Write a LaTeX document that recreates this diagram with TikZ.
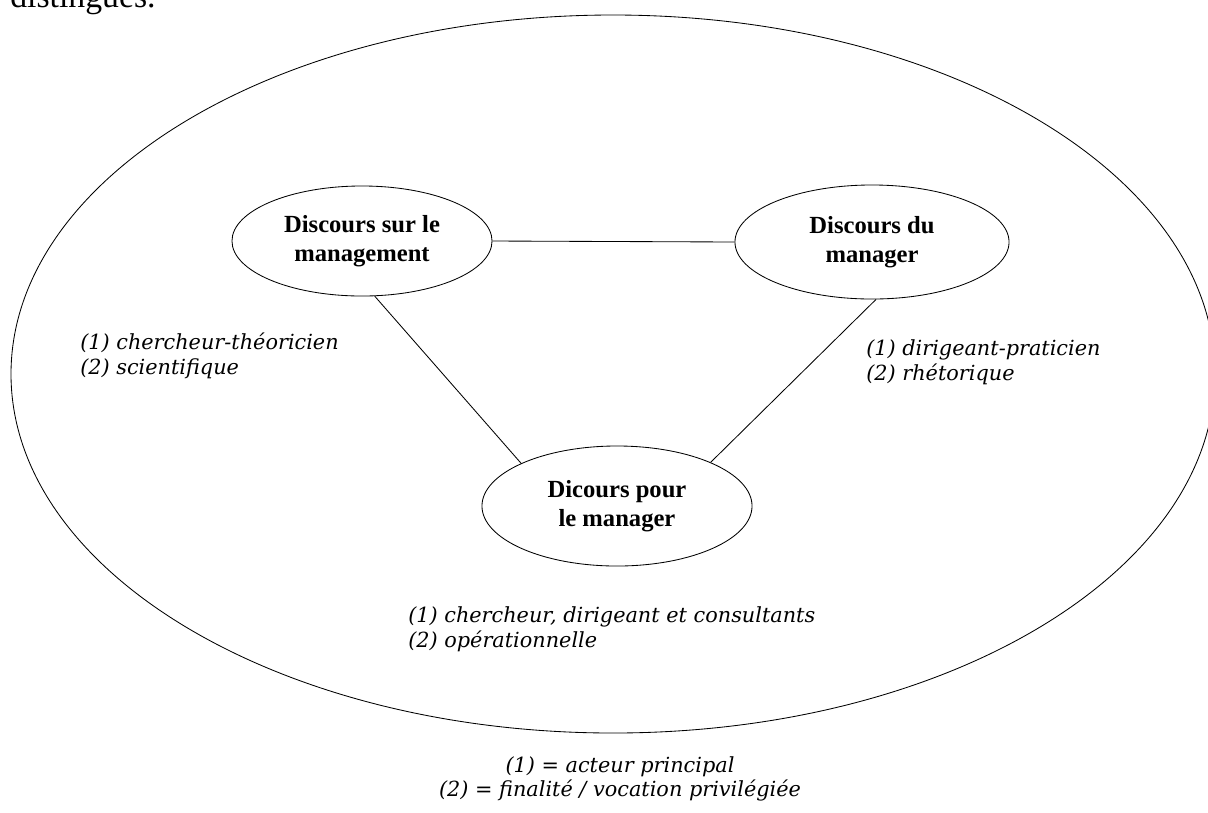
\documentclass[tikz,border=0pt]{standalone}
\usepackage{fontspec}
\setmainfont{Liberation Serif}
\newfontfamily\notefont{DejaVu Serif}
\usetikzlibrary{shapes.geometric}

\begin{document}
\begin{tikzpicture}[x=0.025cm,y=-0.025cm]
	\tikzset{bubble/.style={draw,ellipse,line width=0.6pt,inner sep=0pt,align=center,font=\fontsize{17.5}{21}\selectfont\bfseries}}
	\tikzset{note/.style={inner sep=0pt,align=left,font=\notefont\itshape\fontsize{14.8}{17.5}\selectfont}}
	\tikzset{link/.style={line width=0.6pt}}
	
	% Page size
	\useasboundingbox (0,0) rectangle (1208,812);
	
	% End of the text line above the figure (cut by the page)
	\node[anchor=base west,inner sep=0pt,font=\fontsize{24}{28}\selectfont] (page) at (10,7) {distingués.};
	
	% Outer ellipse
	\draw[line width=0.6pt] (613,374) ellipse [x radius=602, y radius=359];
	
	% The three discourses
	\node[bubble,minimum width=6.5cm,minimum height=2.75cm] (sur) at (362,241) {Discours sur le\\management};
	\node[bubble,minimum width=6.85cm,minimum height=2.85cm] (du) at (872,242) {Discours du\\manager};
	\node[bubble,minimum width=6.75cm,minimum height=3cm] (pour) at (617,506) {Dicours pour\\le manager};
	
	% Links between them
	\draw[link] (sur.east) -- (du.west);
	\draw[link] (sur.-77) -- (pour.156);
	\draw[link] (du.-86) -- (pour.25);
	
	% Actor and aim of each discourse
	\node[note,anchor=west] (left) at (80,356) {(1) chercheur-théoricien\\(2) scientifique};
	\node[note,anchor=west] (right) at (866,362) {(1) dirigeant-praticien\\(2) rhétorique};
	\node[note,anchor=west] (bottom) at (408,629) {(1) chercheur, dirigeant et consultants\\(2) opérationnelle};
	
	% Legend
	\node[note,align=center] (legend) at (620,779) {(1) = acteur principal\\(2) = finalité / vocation privilégiée};
	
\end{tikzpicture}
\end{document}
